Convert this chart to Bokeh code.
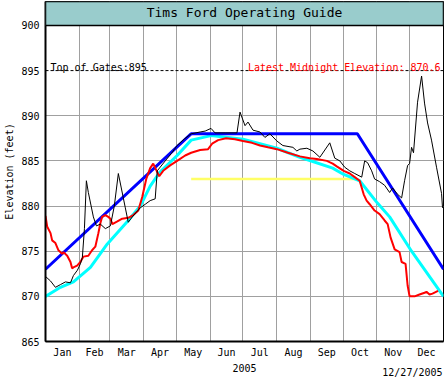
from bokeh.plotting import figure
from bokeh.layouts import column
from bokeh.models import Range1d, FixedTicker, BoxAnnotation, Span, Label
from bokeh.embed import file_html
from bokeh.resources import INLINE

FONT = "DejaVu Sans Mono"

# ---------------- data (x = day of year 2005, 0 = Jan 1) ----------------
month_names = ["Jan", "Feb", "Mar", "Apr", "May", "Jun",
               "Jul", "Aug", "Sep", "Oct", "Nov", "Dec"]
month_starts = [0, 31, 59, 90, 120, 151, 181, 212, 243, 273, 304, 334, 365]
y_ticks = [865, 870, 875, 880, 885, 890, 895, 900]

year_label = "2005"
date_label = "12/27/2005"
top_of_gates = 895
latest_elev = 870.6

guide_days = [0, 133.5, 286, 365]
guide_elev = [873, 888, 888, 873]

min_days = [0, 13.7, 25.6, 41.2, 56.7, 75.9, 86.9, 96.0, 105.2, 120.7, 133.6,
            151.8, 181.1, 212.2, 233.3, 263.4, 273.5, 288.1, 304.6, 315.6,
            335.7, 365]
min_elev = [870.0, 871.0, 871.6, 873.2, 875.8, 878.4, 880.0, 882.2, 883.8,
            885.6, 887.3, 887.8, 887.4, 886.4, 885.4, 884.2, 883.5, 882.8,
            880.3, 878.8, 875.0, 870.0]

yellow_days = [133.6, 284.5]
yellow_elev = [883.0, 883.0]

actual_days = [0, 1.6, 4.6, 6.1, 9.1, 11.9, 15.3, 16.5, 19.9, 22.9, 24.4, 25.6,
               29.0, 32.0, 34.8, 39.3, 42.7, 45.7, 48.5, 50.3, 51.9, 54.9,
               57.6, 59.5, 61.3, 65.9, 70.4, 75.9, 80.5, 85.1, 88.7, 92.4,
               96.0, 98.8, 101.5, 104.3, 107.9, 114.3, 120.7, 128.1, 133.6,
               141.8, 149.1, 152.8, 158.3, 165.6, 173.8, 181.1, 189.4, 196.7,
               204.0, 212.2, 222.3, 233.3, 242.4, 248.8, 258.0, 263.4, 267.1,
               273.5, 279.0, 283.6, 288.1, 291.8, 294.5, 297.3, 301.8, 306.4,
               311.0, 313.8, 316.5, 320.2, 324.7, 326.6, 330.2, 332.1, 333.9,
               338.5, 343.0, 347.6, 349.4, 352.2, 354.9, 360.0]
actual_elev = [878.9, 877.7, 877.0, 876.2, 875.9, 875.1, 874.7, 874.9, 874.5,
               873.8, 873.1, 873.2, 873.4, 873.8, 874.4, 874.5, 875.1, 875.5,
               877.0, 878.1, 878.8, 879.0, 878.8, 878.6, 878.0, 878.3, 878.6,
               878.7, 879.0, 879.5, 881.0, 883.0, 884.2, 884.7, 884.0, 883.3,
               883.9, 884.5, 885.0, 885.6, 885.9, 886.2, 886.3, 886.9, 887.3,
               887.5, 887.4, 887.2, 887.0, 886.7, 886.5, 886.3, 885.9, 885.5,
               885.3, 885.2, 885.0, 884.7, 884.4, 883.9, 883.6, 883.2, 882.8,
               881.3, 880.6, 880.2, 879.5, 879.1, 878.4, 878.0, 876.5, 875.2,
               874.9, 873.8, 873.6, 871.2, 870.0, 870.0, 870.2, 870.4, 870.5,
               870.2, 870.3, 870.6]

prev_days = [0, 4.6, 9.1, 13.7, 18.3, 22.9, 25.6, 29.3, 32.0, 33.8, 35.7, 37.5,
             39.3, 43.9, 46.7, 50.3, 54.9, 59.5, 63.1, 66.8, 69.5, 73.2, 75.9,
             79.6, 83.2, 86.9, 91.5, 96.0, 100.6, 102.5, 109.8, 115.3, 120.7,
             127.1, 133.6, 141.8, 146.4, 151.8, 155.5, 164.7, 175.6, 178.4,
             183.0, 185.7, 190.3, 196.7, 201.2, 205.8, 212.2, 217.7, 226.9,
             230.5, 233.3, 239.7, 245.2, 251.6, 260.7, 265.3, 269.9, 274.4,
             279.0, 283.6, 290.0, 292.7, 295.4, 299.1, 301.8, 306.4, 311.0,
             315.6, 318.3, 322.9, 326.6, 329.3, 332.1, 333.9, 335.7, 337.5,
             341.2, 344.9, 347.6, 350.4, 354.0, 358.6, 363.2, 364.1]
prev_elev = [872.2, 871.7, 871.0, 871.3, 871.6, 871.5, 872.3, 872.9, 873.6,
             874.3, 877.5, 882.8, 881.5, 878.8, 877.8, 878.0, 877.5, 877.8,
             880.0, 883.6, 882.0, 879.8, 878.2, 878.8, 879.3, 879.8, 880.2,
             880.6, 880.8, 883.9, 885.0, 885.8, 886.7, 887.4, 888.0, 888.2,
             888.3, 888.6, 888.1, 888.1, 888.1, 890.4, 888.9, 889.3, 888.4,
             888.2, 887.6, 888.0, 887.2, 886.7, 886.5, 886.1, 886.3, 886.4,
             886.1, 885.4, 887.0, 885.3, 885.0, 884.3, 883.9, 883.6, 883.2,
             885.0, 884.8, 883.9, 883.0, 882.7, 882.3, 881.5, 882.0, 881.3,
             880.9, 882.8, 884.5, 884.7, 886.5, 885.9, 891.5, 894.4, 891.4,
             889.2, 887.3, 884.3, 881.4, 879.8]

# ---------------- main figure ----------------
FRAME_H = 341
PLOT_PX = 317          # pixels from 865 to 900
y_top = 900 + (FRAME_H - PLOT_PX) * 35 / PLOT_PX

p = figure(width=444, height=360, output_backend="svg", toolbar_location=None,
           x_range=Range1d(0, 365), y_range=Range1d(865, y_top),
           min_border_left=45, min_border_right=1, min_border_top=1,
           min_border_bottom=18)
p.background_fill_color = "white"
p.border_fill_color = "white"
p.outline_line_color = "black"
p.outline_line_width = 1

mids = [(a + b) / 2 for a, b in zip(month_starts[:-1], month_starts[1:])]
p.xaxis.ticker = FixedTicker(ticks=mids)
p.xaxis.major_label_overrides = {m: n for m, n in zip(mids, month_names)}
p.xgrid.ticker = FixedTicker(ticks=month_starts[1:-1])
p.yaxis.ticker = FixedTicker(ticks=y_ticks)
p.ygrid.ticker = FixedTicker(ticks=y_ticks[1:-2])

for ax in (p.xaxis, p.yaxis):
    ax.major_tick_out = 0
    ax.major_tick_in = 0
    ax.minor_tick_out = 0
    ax.minor_tick_in = 0
    ax.axis_line_color = "black"
    ax.axis_line_width = 2
    ax.major_label_text_font = FONT
    ax.major_label_text_font_size = "10px"
    ax.major_label_text_color = "black"
    ax.axis_label_text_font = FONT
    ax.axis_label_text_font_size = "10px"
    ax.axis_label_text_font_style = "normal"
    ax.axis_label_text_color = "black"

p.xaxis.major_label_standoff = 5
p.yaxis.major_label_standoff = 6
p.yaxis.axis_label = "Elevation (feet)"
p.yaxis.axis_label_standoff = 3

for g in (p.xgrid, p.ygrid):
    g.grid_line_color = "#A0A0A0"
    g.grid_line_width = 1

# title band
band = BoxAnnotation(bottom=900, fill_color="#99CCCC", fill_alpha=1,
                     line_color="black", line_alpha=1, line_width=1.5)
p.add_layout(band)
p.add_layout(Label(x=182.5, y=900 + 12.5 * 35 / PLOT_PX, text="Tims Ford Operating Guide",
                   text_font=FONT, text_font_size="13px", text_align="center",
                   text_baseline="middle", text_color="black"))

# top of gates
p.add_layout(Span(location=top_of_gates, dimension="width", line_color="black",
                  line_dash="3 2", line_width=1))
p.add_layout(Label(x=4.6, y=top_of_gates, y_offset=3, text=f"Top of Gates:{top_of_gates}",
                   text_font=FONT, text_font_size="10px", text_baseline="alphabetic",
                   text_color="black"))
p.add_layout(Label(x=362.3, y=top_of_gates, y_offset=3,
                   text=f"Latest Midnight Elevation: {latest_elev}",
                   text_font=FONT, text_font_size="10px", text_align="right",
                   text_baseline="alphabetic", text_color="#FF0000"))

# series
p.line(yellow_days, yellow_elev, line_color="#FFFF66", line_width=2.5)
p.line(min_days, min_elev, line_color="#00FFFF", line_width=3)
p.line(guide_days, guide_elev, line_color="#0000FF", line_width=3)
p.line(actual_days, actual_elev, line_color="#FF0000", line_width=2)
p.line(prev_days, prev_elev, line_color="black", line_width=1)

# ---------------- strip below with year and date ----------------
s = figure(width=444, height=17, output_backend="svg", toolbar_location=None,
           x_range=Range1d(0, 365), y_range=Range1d(0, 17),
           min_border_left=45, min_border_right=1, min_border_top=0,
           min_border_bottom=0, x_axis_type=None, y_axis_type=None)
s.outline_line_color = None
s.background_fill_color = "white"
s.border_fill_color = "white"
s.xgrid.visible = False
s.ygrid.visible = False
s.add_layout(Label(x=182.5, y=10, text=year_label, text_font=FONT,
                   text_font_size="10px", text_align="center", text_baseline="middle",
                   text_color="black"))
s.add_layout(Label(x=365, y=5, x_offset=-1, text=date_label, text_font=FONT,
                   text_font_size="10px", text_align="right", text_baseline="middle",
                   text_color="black"))

layout = column(p, s, spacing=0)
open("out.html", "w").write(file_html(layout, INLINE))
